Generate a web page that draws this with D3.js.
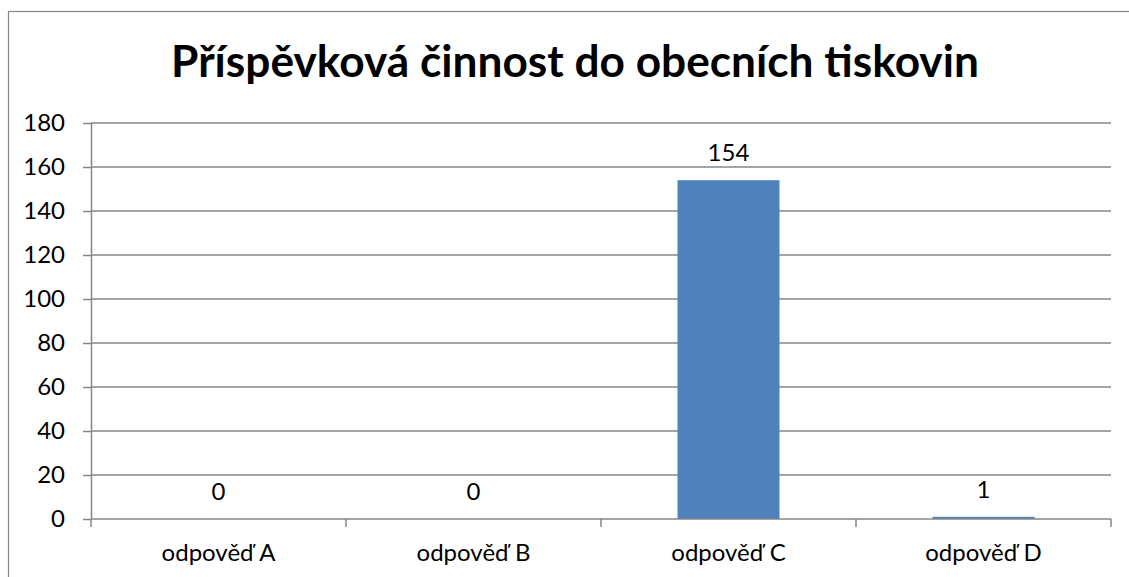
<!DOCTYPE html>
<html><head><meta charset="utf-8">
<script src="https://cdn.jsdelivr.net/npm/d3@7"></script>
<style>
html,body{margin:0;padding:0;background:#fff;}
svg{display:block;}
text{font-family:Lato,"Open Sans",sans-serif;fill:#000;}
</style></head>
<body>
<svg id="chart" width="1129" height="577"></svg>
<script>
const title = "Příspěvková činnost do obecních tiskovin";
const categories = ["odpověď A","odpověď B","odpověď C","odpověď D"];
const values = [0, 0, 154, 1];
const yTicks = [0,20,40,60,80,100,120,140,160,180];

const W = 1129, H = 577;
const margin = {left:91, right:1129-1111, top:123, bottom:577-519};
const svg = d3.select("#chart");
const FS = 24;

// outer frame
svg.append("rect").attr("x",8.5).attr("y",11.5).attr("width",1140).attr("height",600)
  .attr("fill","none").attr("stroke","#868686").attr("stroke-width",1.2);

const x = d3.scaleBand().domain(categories).range([margin.left, W-margin.right]).paddingInner(0.6).paddingOuter(0.3);
const xb = d3.scaleBand().domain(categories).range([margin.left, W-margin.right]);
const y = d3.scaleLinear().domain([0,180]).range([H-margin.bottom, margin.top]);

// y axis
const yAxis = d3.axisLeft(y).tickValues(yTicks).tickSize(8).tickPadding(18).tickFormat(d3.format("d"));
const gy = svg.append("g").attr("transform",`translate(${margin.left},0)`).call(yAxis);
gy.select(".domain").attr("stroke","#868686").attr("stroke-width",1.5).attr("d",`M0.5,${y(180)}V${y(0)}`);
gy.selectAll(".tick line").attr("stroke","#868686").attr("stroke-width",1.5);
gy.selectAll(".tick text").attr("font-size",FS).attr("font-family","Lato").attr("fill","#000");

// gridlines
svg.append("g").selectAll("line").data(yTicks.filter(d=>d>0)).join("line")
  .attr("x1",margin.left).attr("x2",W-margin.right)
  .attr("y1",d=>y(d)).attr("y2",d=>y(d))
  .attr("stroke","#868686").attr("stroke-width",1.5);

// bars
svg.append("g").selectAll("rect").data(values).join("rect")
  .attr("x",(d,i)=>x(categories[i]))
  .attr("width",x.bandwidth())
  .attr("y",d=>y(d))
  .attr("height",d=>y(0)-y(d))
  .attr("fill","#4F81BD");

// x axis
const gx = svg.append("g").attr("transform",`translate(0,${y(0)})`);
gx.append("line").attr("x1",margin.left).attr("x2",W-margin.right).attr("y1",0).attr("y2",0)
  .attr("stroke","#868686").attr("stroke-width",1.5);
const bounds = categories.map(c=>xb(c)).concat([xb(categories[categories.length-1])+xb.bandwidth()]);
gx.selectAll("line.tk").data(bounds).join("line").attr("class","tk")
  .attr("x1",d=>d).attr("x2",d=>d).attr("y1",0).attr("y2",8)
  .attr("stroke","#868686").attr("stroke-width",1.5);
gx.selectAll("text").data(categories).join("text")
  .attr("x",d=>xb(d)+xb.bandwidth()/2).attr("y",42)
  .attr("text-anchor","middle").attr("font-size",FS).text(d=>d);

// data labels
svg.append("g").selectAll("text").data(values).join("text")
  .attr("x",(d,i)=>xb(categories[i])+xb.bandwidth()/2)
  .attr("y",d=>y(d)-19)
  .attr("text-anchor","middle").attr("font-size",FS).text(d=>d);

// title
const t = svg.append("text").attr("x",575).attr("y",77).attr("text-anchor","middle")
  .attr("font-weight","bold").attr("font-size",100).text(title);
const len = t.node().getComputedTextLength();
t.attr("font-size",100*808/len);
</script>
</body></html>
